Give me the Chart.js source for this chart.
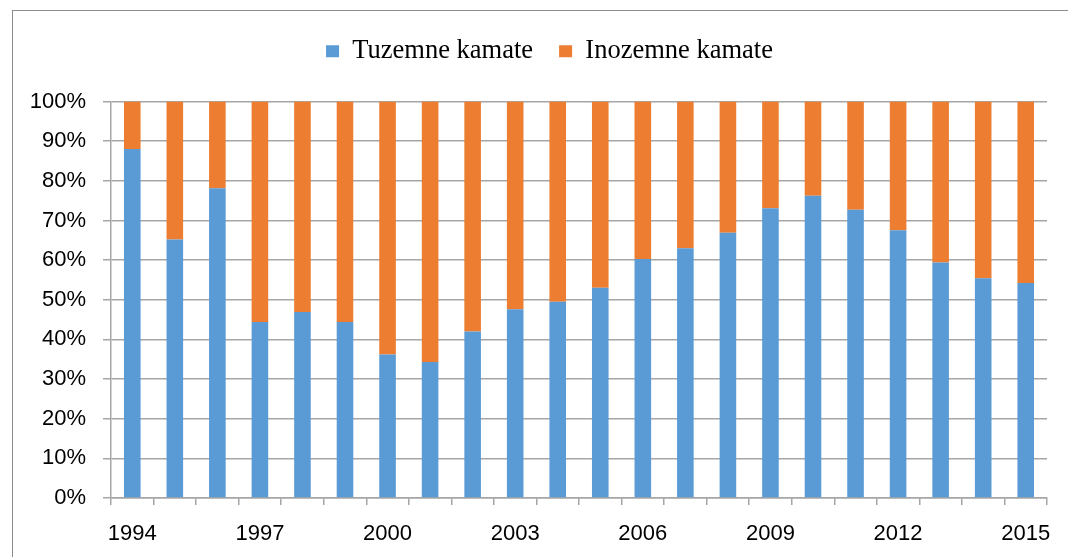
<!DOCTYPE html>
<html>
<head>
<meta charset="utf-8">
<script src="https://cdn.jsdelivr.net/npm/chart.js@4/dist/chart.umd.min.js"></script>
<style>
  html, body { margin: 0; padding: 0; background: #fff; }
  #wrap { position: relative; width: 1068px; height: 557px; overflow: hidden; }
  #frame { position: absolute; left: 12px; top: 10px; width: 1100px; height: 600px;
           border: 1px solid #8c8c8c; box-sizing: border-box; pointer-events: none; }
  canvas { position: absolute; left: 0; top: 0; }
</style>
</head>
<body>
<div id="wrap">
  <canvas id="chart" width="1068" height="557"></canvas>
  <div id="frame"></div>
</div>
<script>
// udio tuzemnih / inozemnih kamata, 1994–2015
const years = ["1994","1995","1996","1997","1998","1999","2000","2001","2002","2003","2004",
               "2005","2006","2007","2008","2009","2010","2011","2012","2013","2014","2015"];
const tuzemne = [88.0, 65.2, 78.1, 44.4, 46.9, 44.4, 36.2, 34.3, 42.0, 47.6, 49.5,
                 53.0, 60.3, 63.0, 66.9, 73.1, 76.2, 72.7, 67.5, 59.4, 55.4, 54.2];
const inozemne = [12.0, 34.8, 21.9, 55.6, 53.1, 55.6, 63.8, 65.7, 58.0, 52.4, 50.5,
                  47.0, 39.7, 37.0, 33.1, 26.9, 23.8, 27.3, 32.5, 40.6, 44.6, 45.8];
const yTicks = [0, 10, 20, 30, 40, 50, 60, 70, 80, 90, 100];

const BLUE = "#5b9bd5", ORANGE = "#ed7d31", GRID = "#a6a6a6";
const tickFont = { family: "'Liberation Sans', Arial, sans-serif", size: 22 };

// legend: extra space below it and centred on the frame, like the Excel original
const legendTweak = {
  id: "legendTweak",
  beforeInit(chart) {
    const lg = chart.legend;
    const fit = lg.fit, draw = lg.draw;
    lg.fit = function () { fit.call(this); this.height += 27; };
    lg.draw = function () {
      const ctx = this.ctx;
      ctx.save(); ctx.translate(26, 0); draw.call(this); ctx.restore();
    };
  },
};

new Chart(document.getElementById("chart"), {
  type: "bar",
  data: {
    labels: years,
    datasets: [
      { label: "Tuzemne kamate", data: tuzemne, backgroundColor: BLUE,
        barPercentage: 0.39, categoryPercentage: 1 },
      { label: "Inozemne kamate", data: inozemne, backgroundColor: ORANGE,
        barPercentage: 0.39, categoryPercentage: 1 },
    ],
  },
  plugins: [legendTweak],
  options: {
    responsive: false,
    animation: false,
    layout: { padding: { top: 12, right: 21, left: 0, bottom: 0 } },
    plugins: {
      tooltip: { enabled: false },
      legend: {
        position: "top",
        labels: {
          color: "#000",
          font: { family: "'Liberation Serif', 'Times New Roman', serif", size: 26.5 },
          boxWidth: 13, boxHeight: 12, padding: 26,
        },
      },
    },
    scales: {
      x: {
        stacked: true,
        offset: true,
        grid: { offset: true, drawOnChartArea: false, drawTicks: true,
                tickLength: 7, color: GRID, lineWidth: 1.5 },
        border: { display: true, color: GRID, width: 1.5 },
        ticks: {
          color: "#000", font: tickFont, autoSkip: false, maxRotation: 0, padding: 16,
          callback: (v, i) => (i % 3 === 0 ? years[i] : ""),
        },
        afterFit: (s) => { s.height = 59; },
      },
      y: {
        stacked: true,
        min: 0, max: 100,
        afterBuildTicks: (s) => { s.ticks = yTicks.map((v) => ({ value: v })); },
        grid: { color: GRID, lineWidth: 1.5, tickLength: 8 },
        border: { display: true, color: GRID, width: 1.5 },
        ticks: { color: "#000", font: tickFont, padding: 17, callback: (v) => v + "%" },
        afterFit: (s) => { s.width = 111; },
      },
    },
  },
});
</script>
</body>
</html>
